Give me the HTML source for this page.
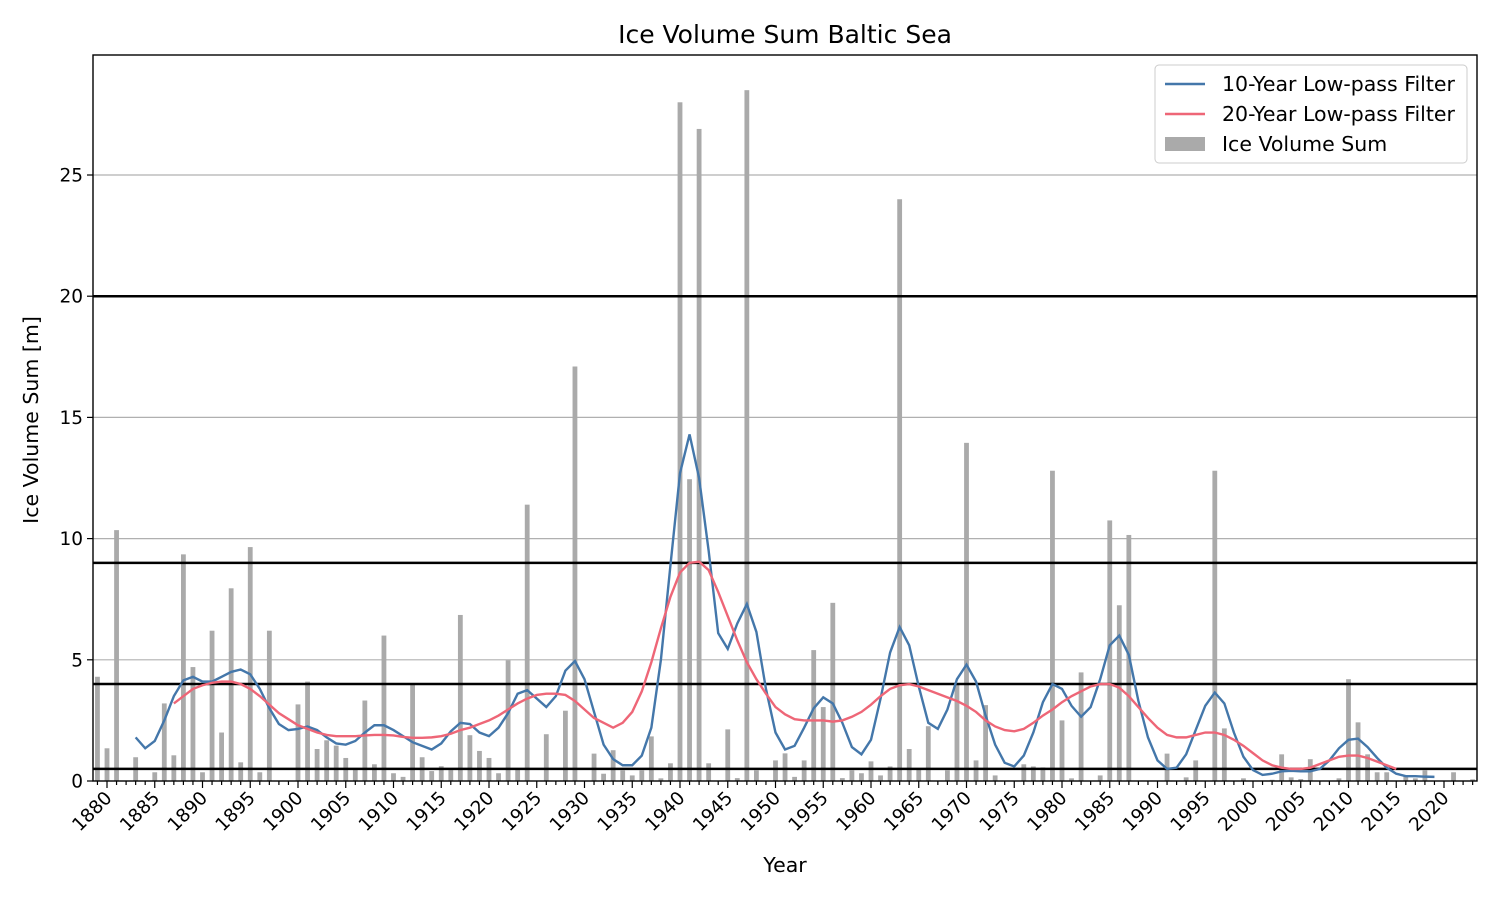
<!DOCTYPE html>
<html><head><meta charset="utf-8"><style>body{margin:0;background:#fff}svg{font-family:"DejaVu Sans","Liberation Sans",sans-serif}</style></head>
<body>
<svg id="c" width="1500" height="900" xmlns="http://www.w3.org/2000/svg"></svg>
<script>
const years=[];for(let y=1879;y<=2023;y++)years.push(y);
const iceVolume=[4.3,1.35,10.35,0,0.98,0,0.36,3.2,1.06,9.35,4.7,0.36,6.2,2.0,7.95,0.77,9.65,0.36,6.2,0,0,
3.16,4.1,1.32,1.68,1.46,0.95,0.5,3.32,0.69,6.0,0.32,0.17,3.99,0.98,0.41,0.61,0.45,6.85,1.89,1.24,
0.95,0.32,4.98,0.5,11.4,0,1.93,0,2.9,17.1,0,1.13,0.3,1.27,0.44,0.23,0.44,1.84,0.11,0.73,
28.0,12.45,26.9,0.73,0,2.13,0.12,28.5,0.44,0,0.85,1.14,0.17,0.85,5.4,3.05,7.35,0.12,0.44,0.32,
0.81,0.23,0.6,24.0,1.32,0.5,2.26,0,0.44,4.0,13.95,0.85,3.13,0.23,0,0,0.69,0.6,0.56,12.8,
2.5,0.11,4.48,0,0.23,10.75,7.25,10.15,0,0,0,1.13,0,0.15,0.85,0,12.8,2.17,0,0.11,
0,0,0.05,1.1,0.15,0.08,0.9,0,0,0.11,4.2,2.42,1.1,0.36,0.36,0,0.23,0.11,0.44,0,0,0.36,0,0.07];
const lp10Start=1883;
const lp10=[1.8,1.35,1.65,2.5,3.5,4.15,4.3,4.1,4.1,4.3,4.5,4.6,4.4,3.8,3.0,2.35,2.1,2.15,2.25,2.1,1.8,1.55,1.5,1.65,2.0,2.3,2.3,2.1,1.85,1.6,1.45,1.3,1.55,2.05,2.4,2.35,2.0,1.85,2.2,2.8,3.6,3.75,3.4,3.05,3.5,4.55,4.95,4.2,2.85,1.5,0.9,0.65,0.65,1.05,2.2,5.0,8.9,12.7,14.3,12.5,9.5,6.1,5.45,6.5,7.3,6.15,3.8,2.0,1.3,1.45,2.2,3.0,3.45,3.2,2.4,1.4,1.1,1.7,3.4,5.3,6.35,5.6,3.9,2.4,2.15,2.95,4.2,4.8,4.1,2.7,1.5,0.75,0.6,1.05,2.0,3.25,4.0,3.8,3.1,2.65,3.05,4.2,5.6,6.0,5.2,3.3,1.8,0.85,0.5,0.55,1.1,2.1,3.1,3.65,3.2,2.0,1.0,0.45,0.25,0.3,0.4,0.42,0.4,0.4,0.5,0.85,1.35,1.7,1.75,1.4,0.95,0.55,0.3,0.2,0.2,0.18,0.17];
const lp20Start=1887;
const lp20=[3.2,3.5,3.8,3.95,4.05,4.1,4.1,4.0,3.8,3.5,3.15,2.8,2.55,2.3,2.15,2.0,1.9,1.85,1.85,1.85,1.88,1.9,1.9,1.88,1.82,1.78,1.78,1.8,1.85,1.95,2.1,2.2,2.35,2.5,2.7,2.95,3.2,3.4,3.55,3.6,3.6,3.55,3.3,2.95,2.6,2.4,2.2,2.4,2.85,3.7,4.9,6.3,7.6,8.6,9.0,9.05,8.7,7.8,6.8,5.8,4.9,4.2,3.6,3.05,2.75,2.55,2.5,2.5,2.5,2.45,2.5,2.65,2.85,3.15,3.5,3.8,3.95,4.0,3.9,3.75,3.6,3.45,3.3,3.1,2.85,2.5,2.25,2.1,2.05,2.15,2.4,2.7,2.95,3.25,3.5,3.7,3.9,4.0,4.0,3.85,3.5,3.05,2.6,2.2,1.9,1.8,1.8,1.9,2.0,2.0,1.9,1.7,1.45,1.15,0.85,0.65,0.55,0.5,0.5,0.55,0.7,0.85,1.0,1.05,1.05,0.95,0.8,0.65,0.5];
const yTicks=[0,5,10,15,20,25];
const thresholds=[0.5,4,9,20];
const xTicks=[];for(let y=1880;y<=2020;y+=5)xTicks.push(y);

const L=93,R=1477,T=55,B=781;
const X=y=>107+(y-1880)*9.55;
const Y=v=>B-v*24.24;
const s=document.getElementById('c');const NS='http://www.w3.org/2000/svg';
function el(t,a,p){const e=document.createElementNS(NS,t);for(const k in a)e.setAttribute(k,a[k]);(p||s).appendChild(e);return e;}

const grid=el('g',{});


yTicks.forEach(v=>{if(v>0)el('line',{x1:L,x2:R,y1:Y(v),y2:Y(v),stroke:'#b0b0b0','stroke-width':1.2},grid);});

const bars=el('g',{});


years.forEach((yr,i)=>{const v=iceVolume[i];if(!v)return;const r=el('rect',{x:X(yr)-2.4,y:Y(v),width:4.8,height:B-Y(v),fill:'#aaaaaa'},bars);

});

thresholds.forEach(v=>{const l=el('line',{x1:L,x2:R,y1:Y(v),y2:Y(v),stroke:'#000','stroke-width':2.5});

});

function line(arr,start,col,name){const p=el('polyline',{points:arr.map((v,i)=>X(start+i)+','+Y(v)).join(' '),fill:'none',stroke:col,'stroke-width':2.4});

}
line(lp10,lp10Start,'#4477aa','lowpass-10-year-line');
line(lp20,lp20Start,'#ee6677','lowpass-20-year-line');

const frame=el('rect',{x:L,y:T,width:R-L,height:B-T,fill:'none',stroke:'#000','stroke-width':1.4});



yTicks.forEach(v=>{el('line',{x1:L-6,x2:L,y1:Y(v),y2:Y(v),stroke:'#000','stroke-width':1.2});
const t=el('text',{x:L-10,y:Y(v)+6.5,'text-anchor':'end','font-size':18.5});t.textContent=v;

});
for(let yr=1879;yr<=2023;yr++){const big=yr%5==0;el('line',{x1:X(yr),x2:X(yr),y1:B,y2:B+(big?7:4),stroke:'#000','stroke-width':1.2});}
xTicks.forEach(yr=>{const x=X(yr)+6,y=B+18;const t=el('text',{x:x,y:y,'text-anchor':'end','font-size':18.5,transform:`rotate(-45 ${x} ${y})`});t.textContent=yr;

});

const title=el('text',{x:785,y:43,'text-anchor':'middle','font-size':25});title.textContent='Ice Volume Sum Baltic Sea';


const xl=el('text',{x:785,y:872,'text-anchor':'middle','font-size':20.5});xl.textContent='Year';


const yl=el('text',{x:38,y:420,'text-anchor':'middle','font-size':20.5,transform:'rotate(-90 38 420)'});yl.textContent='Ice Volume Sum [m]';



const lg=el('g',{});


el('rect',{x:1155,y:65,width:312,height:98,rx:4,fill:'#fff','fill-opacity':0.8,stroke:'#ccc'},lg);
const ents=[['10-Year Low-pass Filter','#4477aa','l'],['20-Year Low-pass Filter','#ee6677','l'],['Ice Volume Sum','#aaaaaa','b']];
ents.forEach((e,i)=>{const y=84+i*30;const g=el('g',{},lg);


if(e[2]=='l')el('line',{x1:1165,x2:1205,y1:y,y2:y,stroke:e[1],'stroke-width':2.4},g);else el('rect',{x:1165,y:y-7,width:40,height:14,fill:e[1]},g);
const t=el('text',{x:1222,y:y+7,'font-size':20.5},g);t.textContent=e[0];});
</script>
</body></html>
